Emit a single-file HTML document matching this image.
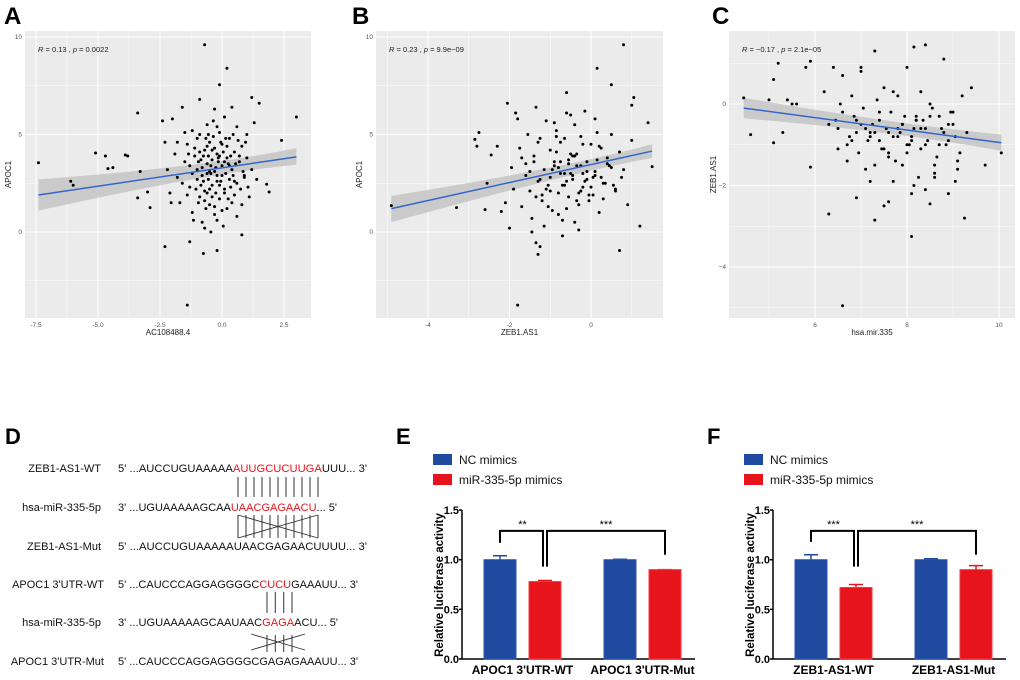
<!DOCTYPE html>
<html><head><meta charset="utf-8"><style>
html,body{margin:0;padding:0;background:#fff;}
svg{display:block;font-family:"Liberation Sans",Arial,sans-serif;}
</style></head><body>
<svg id="fig" width="1020" height="680" viewBox="0 0 1020 680" xmlns="http://www.w3.org/2000/svg">
<g id="scatters"></g>
<g id="bars"></g>
<g id="panelD">
<text x="5" y="444" font-size="22" font-weight="bold">D</text>
<g font-size="11" fill="#111">
<text x="101" y="472" text-anchor="end">ZEB1-AS1-WT</text>
<text x="101" y="511" text-anchor="end">hsa-miR-335-5p</text>
<text x="101" y="550" text-anchor="end">ZEB1-AS1-Mut</text>
<text x="104" y="588" text-anchor="end">APOC1 3'UTR-WT</text>
<text x="101" y="626" text-anchor="end">hsa-miR-335-5p</text>
<text x="104" y="665" text-anchor="end">APOC1 3'UTR-Mut</text>
<text x="118" y="472" textLength="249" lengthAdjust="spacingAndGlyphs">5' ...AUCCUGUAAAAA<tspan fill="#e8141b">AUUGCUCUUGA</tspan>UUU... 3'</text>
<text x="118" y="511" textLength="219" lengthAdjust="spacingAndGlyphs">3' ...UGUAAAAAGCAA<tspan fill="#e8141b">UAACGAGAACU</tspan>... 5'</text>
<text x="118" y="550" textLength="249" lengthAdjust="spacingAndGlyphs">5' ...AUCCUGUAAAAAUAACGAGAACUUUU... 3'</text>
<text x="118" y="588" textLength="240" lengthAdjust="spacingAndGlyphs">5' ...CAUCCCAGGAGGGGC<tspan fill="#e8141b">CUCU</tspan>GAAAUU... 3'</text>
<text x="118" y="626" textLength="220" lengthAdjust="spacingAndGlyphs">3' ...UGUAAAAAGCAAUAAC<tspan fill="#e8141b">GAGA</tspan>ACU... 5'</text>
<text x="118" y="665" textLength="240" lengthAdjust="spacingAndGlyphs">5' ...CAUCCCAGGAGGGGCGAGAGAAAUU... 3'</text>
</g>
<g id="pairlines" stroke="#555" stroke-width="1.2"></g>
<g stroke="#333" stroke-width="0.9">
<line x1="238" y1="515" x2="318" y2="538"/><line x1="238" y1="538" x2="318" y2="515"/>
<line x1="251" y1="650" x2="305" y2="634"/><line x1="251" y1="634" x2="305" y2="650"/>
</g>
</g>
</svg>
<script>
// ---------- Panel A data ----------
const aX=[-7.4,-6.1,-6,-5.1,-4.7,-4.6,-4.4,-3.9,-3.8,-3.4,-3.4,-3.3,-3,-2.9,-0.7,0.2,-0.1,3.0,2.4,1.9,1.8,-1.4,-2.3,-0.75,-0.2,-1.3,0.8,
-2.4,-2.3,-2.2,-2.1,-2.0,-1.9,-1.8,-1.7,-1.6,-1.5,-1.4,-1.3,-1.2,-1.2,-1.1,-1.0,-1.0,-0.9,-0.9,-0.8,-0.8,-0.7,-0.7,-0.6,-0.6,-0.5,-0.5,-0.4,-0.4,-0.3,-0.3,-0.2,-0.2,-0.1,-0.1,0.0,0.0,0.1,0.1,0.2,0.2,0.3,0.3,0.4,0.4,0.5,0.5,0.6,0.6,0.7,0.8,0.8,0.9,1.0,1.0,1.1,1.2,1.2,1.3,1.4,1.5,-1.6,-1.4,-1.3,-1.1,-0.95,-0.85,-0.75,-0.65,-0.55,-0.45,-0.35,-0.25,-0.15,-0.05,0.05,0.15,0.25,0.35,0.45,0.55,0.65,0.75,0.85,-1.05,-0.9,-0.6,-0.4,-0.2,0.0,0.2,0.4,-0.7,-1.15,0.05,-0.45,0.6,-1.5,-1.8,-2.05,1.05,0.95,-0.55,-0.3,-0.1,-0.8,-0.5,-0.2,0.1,0.3,-0.6,-1.0,-0.9,0.5,-0.3,-0.65,0.15,-0.35,
-0.5,-0.25,-0.75,0.0,-0.4,-0.15,-0.85,0.25,-0.6,-0.05,0.35,-1.2,-0.3,-0.7,0.1,-0.45,-0.95,0.45,-0.2,-0.55,0.7,-1.35,0.9,-0.1];
const aY=[3.55,2.6,2.4,4.05,3.9,3.25,3.3,3.95,3.9,6.1,1.75,3.1,2.05,1.25,9.6,8.4,7.55,5.9,4.7,2.05,2.45,-3.75,-0.75,-1.1,-0.95,-0.5,-0.15,
5.7,4.6,3.2,2.0,5.8,4.0,2.8,1.5,6.4,3.6,4.5,2.3,5.2,1.0,3.9,2.7,4.8,1.8,6.8,3.3,0.5,4.2,2.1,5.5,3.0,1.4,4.6,3.7,2.4,6.3,0.9,4.0,2.9,5.1,1.7,3.4,4.5,2.2,5.9,3.8,1.2,4.8,2.7,3.2,6.4,1.9,4.1,5.4,2.5,3.6,1.4,4.4,2.9,5.0,3.8,1.8,6.9,3.2,5.6,2.7,6.6,2.5,1.9,3.4,4.3,3.6,2.4,3.9,1.2,2.7,3.4,4.9,2.0,3.6,2.6,4.1,3.0,1.7,3.9,2.9,3.5,4.7,2.2,3.1,2.2,5.0,4.4,1.8,5.4,1.1,4.4,1.5,0.2,0.6,0.3,0.0,0.8,5.1,4.6,1.5,2.3,4.6,3.9,3.1,3.9,2.9,2.2,2.6,3.6,3.4,3.5,3.2,4.1,2.6,4.3,4.8,4.8,5.7,
3.1,3.3,2.6,2.9,4.2,3.8,3.7,3.5,2.0,4.6,2.3,3.0,1.3,1.6,2.0,3.0,1.5,5.0,0.6,5.0,3.9,4.0,2.8,2.4];
// ---------- Panel B data ----------
const bX=[-4.9,-3.3,-2.85,-2.8,-2.75,-2.6,-2.55,-2.45,-2.3,-2.2,-2.1,-2.0,-1.85,-1.8,-1.8,1.2,0.8,0.15,0.5,-0.6,0.7,1.0,1.05,1.4,1.5,-1.35,-1.3,-1.25,
-1.9,-1.75,-1.7,-1.6,-1.55,-1.5,-1.45,-1.4,-1.35,-1.3,-1.25,-1.2,-1.15,-1.1,-1.05,-1.0,-0.95,-0.9,-0.85,-0.8,-0.75,-0.7,-0.65,-0.6,-0.55,-0.5,-0.45,-0.4,-0.35,-0.3,-0.25,-0.2,-0.15,-0.1,-0.05,0.0,0.05,0.1,0.15,0.2,0.25,0.3,0.4,0.5,0.6,0.7,0.8,0.9,1.0,-1.6,-1.4,-1.2,-1.0,-0.8,-0.6,-0.4,-0.2,0.0,0.2,0.4,0.6,-1.5,-1.3,-1.1,-0.9,-0.7,-0.5,-0.3,-0.1,0.1,0.3,0.5,-1.7,-1.25,-0.85,-0.45,-0.05,0.35,-0.95,-0.55,-0.15,-0.75,-0.35,0.25,-1.05,-0.65,-0.25,0.15,-1.45,-0.7,-0.4,-0.6,-0.3,-0.9,-0.5,-0.2,-0.8,-1.0,0.05,0.45,0.75,-2.05,-1.95,-0.1,-0.65,-0.35,-0.85,-0.55,-1.15,-0.45,-0.25,0.1,0.55,-0.75,-1.35,-0.15];
const bY=[1.35,1.25,4.75,4.4,5.1,1.15,2.5,3.95,4.4,1.05,1.5,0.2,6.1,5.8,-3.75,0.3,9.6,8.4,7.55,7.15,-0.95,6.5,6.9,5.6,3.35,-0.55,-1.15,-0.75,
2.2,4.3,1.3,3.5,5.0,2.1,0.7,3.9,6.4,2.6,4.8,1.6,3.2,5.7,2.4,4.2,1.1,3.6,5.2,2.0,4.6,0.6,3.0,6.1,1.8,4.0,2.7,5.5,3.4,1.4,4.9,2.3,6.2,3.1,1.6,4.5,2.8,5.8,3.7,1.0,4.3,2.5,3.8,5.0,2.1,4.1,3.2,1.4,4.7,2.9,3.6,1.9,2.8,3.3,2.6,3.9,3.0,2.3,4.4,3.5,2.2,3.1,4.6,2.2,3.4,2.4,3.0,2.0,3.6,2.9,1.7,3.3,3.8,2.7,4.1,2.9,1.9,2.5,3.2,3.7,2.6,3.0,4.0,2.8,1.3,2.4,3.4,5.1,0.0,-0.2,0.5,1.2,0.1,5.6,6.0,4.5,0.9,2.1,1.9,3.4,2.8,6.6,3.3,2.7,4.8,1.6,4.9,3.5,0.3,3.9,2.1,3.1,2.4,3.6,1.8];
// ---------- Panel C data ----------
const cX=[4.45,4.6,5.0,5.1,5.2,5.3,5.1,5.4,5.5,5.6,5.8,5.9,5.9,6.6,8.1,8.4,8.15,9.25,9.7,10.05,7.3,7.6,8.5,
6.2,6.3,6.4,6.5,6.6,6.7,6.8,6.9,7.0,7.1,7.2,7.3,7.4,7.5,7.6,7.7,7.8,7.9,8.0,8.1,8.2,8.3,8.4,8.5,8.6,8.7,8.8,8.9,9.0,9.1,9.2,9.3,9.4,6.45,6.55,6.75,6.85,6.95,7.05,7.15,7.25,7.35,7.45,7.55,7.65,7.75,7.85,7.95,8.05,8.15,8.25,8.35,8.45,8.55,8.65,8.75,8.85,8.95,9.05,9.15,6.5,6.7,6.9,7.1,7.3,7.5,7.7,7.9,8.1,8.3,8.5,8.7,8.9,9.1,6.6,6.8,7.0,7.2,7.4,7.6,7.8,8.0,8.2,8.4,8.6,8.8,9.0,7.4,7.7,7.9,8.1,8.3,7.6,7.8,8.0,8.2,7.2,7.5,8.4,6.3,6.9,7.0,7.3,8.15,8.6,8.9,9.05];
const cY=[0.15,-0.75,0.1,0.6,1.0,-0.7,-0.95,0.1,0.0,0.0,0.9,1.05,-1.55,-4.95,-3.25,1.45,1.4,-2.8,-1.5,-1.2,-2.85,-2.4,-2.45,
0.3,-0.5,0.9,-1.1,0.7,-1.4,0.2,-2.3,0.8,-0.6,-1.9,1.3,-0.2,0.4,-1.3,-0.8,0.2,-1.5,0.9,-2.2,-0.4,0.3,-1.0,0.0,-1.7,-0.3,1.1,-0.9,-0.5,-1.6,0.2,-0.7,0.4,-0.4,0.0,-0.8,-0.3,-1.2,-0.1,-0.9,-0.5,0.1,-1.1,-0.6,-0.2,-1.4,-0.7,-0.3,-1.0,-0.6,-1.8,-0.4,-0.9,-0.1,-1.3,-0.6,-1.0,-0.2,-0.8,-1.2,-0.6,-1.0,-0.4,-1.6,-0.7,-1.1,0.3,-0.5,-0.9,-0.6,-0.3,-1.0,-0.5,-1.4,-0.2,-0.9,-0.5,-0.7,-0.4,-1.2,-0.8,-1.0,-0.3,-0.6,-1.5,-0.7,-0.2,-0.9,-1.9,-0.5,-0.8,-1.1,-0.7,-0.6,-1.2,-0.4,-0.8,-2.5,-2.1,-2.7,-0.7,0.9,-1.5,-2.0,-1.8,-2.2,-1.9];

const panels=[
 {id:'a',label:'A',lx:0,px0:25,px1:311,xs:[-7.5,0,36,222],ys:[0,10,232,37],
  xt:[-7.5,-5,-2.5,0,2.5],xl:['-7.5','-5.0','-2.5','0.0','2.5'],yt:[0,5,10],yl:['0','5','10'],xmi:[-6.25,-3.75,-1.25,1.25],ymi:[-2.5,2.5,7.5],
  X:aX,Y:aY,fit:[-7.4,1.9,3.0,3.85],band:[[-7.4,1.1,2.7],[-0.5,3.05,3.35],[3.0,3.45,4.3]],
  xt_:'AC108488.4',yt_:'APOC1',ann:['0.13','0.0022'],ylx:11},
 {id:'b',label:'B',lx:348,px0:376,px1:663,xs:[-4,0,428,591],ys:[0,10,232,37],
  xt:[-4,-2,0],xl:['-4','-2','0'],yt:[0,5,10],yl:['0','5','10'],xmi:[-5,-3,-1,1],ymi:[-2.5,2.5,7.5],
  X:bX,Y:bY,fit:[-4.9,1.2,1.5,4.15],band:[[-4.9,0.5,1.85],[-0.6,3.0,3.3],[1.5,3.8,4.5]],
  xt_:'ZEB1.AS1',yt_:'APOC1',ann:['0.23','9.9e\u221209'],ylx:362},
 {id:'c',label:'C',lx:708,px0:729,px1:1015,xs:[6,10,815,999],ys:[0,-4,104,267],
  xt:[6,8,10],xl:['6','8','10'],yt:[-4,-2,0],yl:['\u22124','\u22122','0'],xmi:[5,7,9],ymi:[-5,-3,-1,1],
  X:cX,Y:cY,fit:[4.45,-0.1,10.05,-0.95],band:[[4.45,-0.35,0.15],[7.8,-0.68,-0.5],[10.05,-1.15,-0.75]],
  xt_:'hsa.mir.335',yt_:'ZEB1.AS1',ann:['\u22120.17','2.1e\u221205'],ylx:716}
];
const NS='http://www.w3.org/2000/svg';
function mk(tag,attrs,parent,txt){const e=document.createElementNS(NS,tag);for(const k in attrs)e.setAttribute(k,attrs[k]);if(txt!==undefined)e.textContent=txt;parent.appendChild(e);return e;}
const SG=document.getElementById('scatters');
panels.forEach(p=>{
  const sx=v=>p.xs[2]+(v-p.xs[0])*(p.xs[3]-p.xs[2])/(p.xs[1]-p.xs[0]);
  const sy=v=>p.ys[2]+(v-p.ys[0])*(p.ys[3]-p.ys[2])/(p.ys[1]-p.ys[0]);
  const top=31,bot=318;
  const g=mk('g',{},SG);
  
  
  const L=mk('text',{x:p.lx+4,y:24,'font-size':24,'font-weight':'bold'},g,p.label);
  
  
  const bg=mk('rect',{x:p.px0,y:top,width:p.px1-p.px0,height:bot-top,fill:'#ebebeb'},g);
  
  
  p.xmi.forEach(v=>{const gl=mk('line',{x1:sx(v),x2:sx(v),y1:top,y2:bot,stroke:'#fff','stroke-width':0.5},g);});
  p.ymi.forEach(v=>{const gl=mk('line',{y1:sy(v),y2:sy(v),x1:p.px0,x2:p.px1,stroke:'#fff','stroke-width':0.5},g);});
  p.xt.forEach((v,i)=>{
    const gl=mk('line',{x1:sx(v),x2:sx(v),y1:top,y2:bot,stroke:'#fff','stroke-width':1},g);
    
    
    const t=mk('text',{x:sx(v),y:bot+9,'font-size':6.5,fill:'#555','text-anchor':'middle'},g,p.xl[i]);
    
    
  });
  p.yt.forEach((v,i)=>{
    const gl=mk('line',{y1:sy(v),y2:sy(v),x1:p.px0,x2:p.px1,stroke:'#fff','stroke-width':1},g);
    
    
    const t=mk('text',{x:p.px0-3,y:sy(v)+2,'font-size':6.5,fill:'#555','text-anchor':'end'},g,p.yl[i]);
    
    
  });
  const b=p.band;
  const bd='M'+sx(b[0][0])+','+sy(b[0][2])+' Q'+sx(b[1][0])+','+sy(b[1][2])+' '+sx(b[2][0])+','+sy(b[2][2])+' L'+sx(b[2][0])+','+sy(b[2][1])+' Q'+sx(b[1][0])+','+sy(b[1][1])+' '+sx(b[0][0])+','+sy(b[0][1])+'Z';
  const band=mk('path',{d:bd,fill:'#c4c4c4','fill-opacity':0.85},g);
  
  
  const n=Math.min(p.X.length,p.Y.length);
  for(let i=0;i<n;i++){
    const c=mk('circle',{cx:sx(p.X[i]),cy:sy(p.Y[i]),r:1.5,fill:'#000'},g);
    
    
  }
  const fl=mk('line',{x1:sx(p.fit[0]),y1:sy(p.fit[1]),x2:sx(p.fit[2]),y2:sy(p.fit[3]),stroke:'#3366cc','stroke-width':1.5},g);
  
  
  const an=mk('text',{x:p.px0+13,y:52,'font-size':7.5,fill:'#222'},g);
  an.innerHTML='<tspan font-style="italic">R</tspan> = '+p.ann[0]+' , <tspan font-style="italic">p</tspan> = '+p.ann[1];
  
  
  const xt=mk('text',{x:(p.px0+p.px1)/2,y:335,'font-size':8,fill:'#222','text-anchor':'middle'},g,p.xt_);
  
  
  const yy=(top+bot)/2;
  const yt=mk('text',{x:p.ylx,y:yy,'font-size':8,fill:'#222','text-anchor':'middle',transform:'rotate(-90 '+p.ylx+' '+yy+')'},g,p.yt_);
  
  
});

// ---------- Panel D pairing lines ----------
const PL=document.getElementById('pairlines');
[[238,318,11,477,497],[238,318,11,515,538],[267,292,4,592,613],[267,292,4,635,652]].forEach(s=>{
  for(let i=0;i<s[2];i++){const x=s[0]+i*(s[1]-s[0])/(s[2]-1);
    const l=mk('line',{x1:x,x2:x,y1:s[3],y2:s[4]},PL);
    
    }
});

// ---------- Bar charts E, F ----------
const groupsE=["APOC1 3'UTR-WT","APOC1 3'UTR-Mut"];
const ncE=[1.0,1.0], ncErrE=[0.04,0.005];
const miE=[0.78,0.9], miErrE=[0.01,0.0];
const sigE=['**','***'];
const groupsF=['ZEB1-AS1-WT','ZEB1-AS1-Mut'];
const ncF=[1.0,1.0], ncErrF=[0.05,0.01];
const miF=[0.72,0.9], miErrF=[0.03,0.04];
const sigF=['***','***'];
const yTicks=[0,0.5,1.0,1.5], yTickLabels=['0.0','0.5','1.0','1.5'];
const BG=document.getElementById('bars');
function barPanel(off,lab,groups,nc,ncErr,mi,miErr,sig,id){
  const g=mk('g',{},BG);
  
  
  const ax=462+off, y0=659, pu=99.3;
  const sy=v=>y0-v*pu;
  const L=mk('text',{x:396+off,y:444,'font-size':22,'font-weight':'bold'},g,lab);
  
  
  [['#1f4aa0','NC mimics',454],['#e8141b','miR-335-5p mimics',474]].forEach((e,i)=>{
    const r=mk('rect',{x:433+off,y:e[2],width:19,height:11,fill:e[0]},g);
    
    
    const t=mk('text',{x:459+off,y:e[2]+10,'font-size':12,fill:'#111'},g,e[1]);
    
    
  });
  const axl=mk('path',{d:'M'+ax+','+sy(1.5)+' V'+y0+' H'+(695+off),stroke:'#000','stroke-width':1.5,fill:'none'},g);
  
  
  yTicks.forEach((v,i)=>{
    mk('line',{x1:ax-3,x2:ax,y1:sy(v),y2:sy(v),stroke:'#000','stroke-width':1.5},g);
    const t=mk('text',{x:ax-3,y:sy(v)+4,'font-size':11,'font-weight':'bold','text-anchor':'end'},g,yTickLabels[i]);
    
    
  });
  const tx=443+off;
  const yt=mk('text',{x:tx,y:585,'font-size':11.5,'font-weight':'bold','text-anchor':'middle',transform:'rotate(-90 '+tx+' 585)'},g,'Relative luciferase activity');
  
  
  const ncx=[484+off,604+off], mix=[529+off,649+off], bw=32;
  for(let i=0;i<2;i++){
    [[ncx[i],nc[i],ncErr[i],'#1f4aa0','#2a56b0','bar-nc-'],[mix[i],mi[i],miErr[i],'#e8141b','#f03a40','bar-mir-']].forEach(s=>{
      const eb=mk('path',{d:'M'+(s[0]+bw/2)+','+sy(s[1])+' V'+sy(s[1]+s[2])+' M'+(s[0]+bw/2-7)+','+sy(s[1]+s[2])+' H'+(s[0]+bw/2+7),stroke:s[3],'stroke-width':1.5,fill:'none'},g);
      
      
      const r=mk('rect',{x:s[0],y:sy(s[1]),width:bw,height:s[1]*pu,fill:s[3],stroke:s[4],'stroke-width':1},g);
      
      
    });
    const xl=mk('text',{x:(ncx[i]+mix[i]+bw)/2,y:674,'font-size':12,'font-weight':'bold','text-anchor':'middle'},g,groups[i]);
    
    
  }
  const bt=sy(1.29);
  const b1=mk('path',{d:'M'+(ncx[0]+bw/2)+','+sy(nc[0]+ncErr[0]+0.13)+' V'+bt+' H'+(mix[0]+bw/2-2)+' V'+sy(0.93),stroke:'#000','stroke-width':2,fill:'none'},g);
  
  
  const b2=mk('path',{d:'M'+(mix[0]+bw/2+2)+','+sy(0.93)+' V'+bt+' H'+(mix[1]+bw/2)+' V'+sy(1.05),stroke:'#000','stroke-width':2,fill:'none'},g);
  
  
  const s1=mk('text',{x:(ncx[0]+mix[0]+bw)/2,y:bt-3,'font-size':11,'text-anchor':'middle'},g,sig[0]);
  
  
  const s2=mk('text',{x:(mix[0]+mix[1]+bw+2)/2,y:bt-3,'font-size':11,'text-anchor':'middle'},g,sig[1]);
  
  
}
barPanel(0,'E',groupsE,ncE,ncErrE,miE,miErrE,sigE,'e');
barPanel(311,'F',groupsF,ncF,ncErrF,miF,miErrF,sigF,'f');
</script>
</body></html>
